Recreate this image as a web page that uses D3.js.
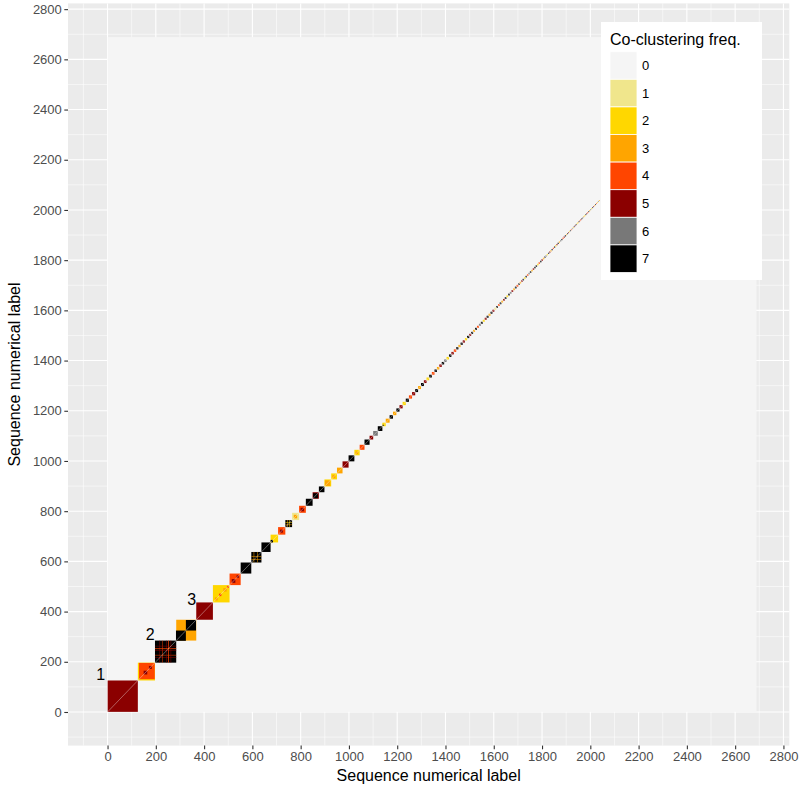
<!DOCTYPE html>
<html>
<head>
<meta charset="utf-8">
<script src="https://cdn.jsdelivr.net/npm/d3@7"></script>
<style>
  body { margin: 0; background: #ffffff; }
  svg { display: block; font-family: "Liberation Sans", Arial, sans-serif; }
</style>
</head>
<body>
<svg id="chart"></svg>
<script>
let width = 800
let height = 791

// number of sequences in the matrix
let nSeq = 2688

// co-clustering frequency levels and their fills
let freqLevels = [0, 1, 2, 3, 4, 5, 6, 7]
let freqColors = ['#F5F5F5', '#F0E68C', '#FFD700', '#FFA500', '#FF4500', '#8B0000', '#787878', '#000000']

// clusters along the diagonal, in order: size (sequences) and frequency
let clusterSize = [
    125, 71, 88, 83, 69, 69, 46, 44, 42, 38, 31, 30, 28, 29, 28, 28, 26, 23, 28, 24,
    23, 25, 24, 22, 20, 21, 15, 19, 19, 14, 16,
    14, 14, 13, 13, 13, 13, 13, 13, 12, 12,
    12, 11, 11, 11, 11, 10, 10, 10, 10, 10, 10, 10, 10, 10, 9, 9, 9, 9, 9, 9,
    8, 8, 8, 8, 8, 8, 8, 8, 8, 8, 8, 8, 8, 8, 7, 7, 7, 7, 7, 7, 7, 7, 7, 7, 7, 7, 7,
    6, 6, 6, 6, 6, 6, 6, 6, 6, 6, 6, 6, 6, 6, 6, 6, 6, 6, 5, 5, 5, 5, 5, 5, 5, 5, 5, 5, 5, 5, 5, 5, 5, 5, 5, 5,
    4, 4, 4, 4, 4, 4, 4, 4, 4, 4, 4, 4, 4, 4, 4, 4, 4, 4, 4, 4, 4, 4, 4, 4, 4, 4, 4, 4, 4, 4, 4, 4, 4, 4, 4
]
let clusterFreq = [
    5, 2, 7, 3, 5, 2, 4, 7, 7, 7, 2, 4, 7, 1, 4, 7, 5, 7, 2, 2,
    3, 5, 7, 2, 4, 7, 5, 6, 7, 2, 3,
    7, 3, 7, 5, 2, 7, 4, 5, 7, 3,
    7, 5, 2, 7, 4, 7, 3, 5, 7, 6, 2, 7, 5, 4, 7, 3, 7, 5, 2, 7,
    5, 7, 3, 7, 4, 6, 7, 2, 5, 7, 3, 7, 5, 1, 7, 4, 7, 3, 5, 7, 2, 7, 6, 5, 3, 7, 4,
    7, 3, 5, 7, 2, 7, 4, 6, 7, 3, 5, 7, 7, 2, 4, 7, 5, 3, 7, 6, 2, 7, 5, 3, 7, 4, 7, 2, 5, 7, 3, 6, 7, 4, 5, 7,
    3, 7, 5, 2, 7, 4, 6, 3, 7, 5, 7, 2, 3, 7, 4, 5, 7, 6, 3, 2, 7, 5, 4, 7, 3, 6, 2, 7, 5, 3, 7, 4, 2, 6, 3
]

// tighter sub-groups inside a cluster: first sequence, size, frequency
let subStart = [131, 150, 172, 284, 325, 445, 462, 480, 495, 515, 535, 676, 715, 772, 800, 852, 901, 932, 1028, 1140]
let subSize  = [65, 15, 12, 41, 42, 12, 10, 14, 8, 15, 10, 10, 12, 14, 14, 20, 22, 12, 10, 5]
let subFreq  = [4, 5, 5, 7, 7, 3, 4, 3, 4, 5, 5, 7, 5, 3, 5, 7, 3, 3, 3, 7]

// loosely attached members (row + column inside their cluster)
let looseStart = [216, 226, 244, 251, 262, 606, 620, 745, 754]
let looseSize  = [2, 2, 2, 3, 2, 2, 2, 2, 2]
let looseFreq  = [5, 4, 5, 4, 5, 3, 3, 3, 2]

// numbered cluster labels
let labelText = ['1', '2', '3']
let labelX = [-28, 177, 349]
let labelY = [150, 309, 448]

let xTicks = [0, 200, 400, 600, 800, 1000, 1200, 1400, 1600, 1800, 2000, 2200, 2400, 2600, 2800]
let xMinor = [-100, 100, 300, 500, 700, 900, 1100, 1300, 1500, 1700, 1900, 2100, 2300, 2500, 2700]
let yTicks = [0, 200, 400, 600, 800, 1000, 1200, 1400, 1600, 1800, 2000, 2200, 2400, 2600, 2800]
let yMinor = [-100, 100, 300, 500, 700, 900, 1100, 1300, 1500, 1700, 1900, 2100, 2300, 2500, 2700]

let panel = { left: 68, right: 789.3, top: 3.4, bottom: 745.6 }

let svg = d3.select('#chart').attr('width', width).attr('height', height)

let expand = (lo, hi) => {
    let pad = (hi - lo) * 0.05
    return [lo - pad, hi + pad]
}

let xScale = d3.scaleLinear()
    .domain(expand(d3.min(labelX), nSeq + 0.5))
    .range([panel.left, panel.right])
let yScale = d3.scaleLinear()
    .domain(expand(0.5, nSeq + 0.5))
    .range([panel.bottom, panel.top])
let color = d3.scaleOrdinal().domain(freqLevels).range(freqColors)

let ends = d3.cumsum(clusterSize)
let clusters = clusterSize.map((s, i) => ({ start: ends[i] - s + 1, size: s, freq: clusterFreq[i] }))

// panel background and grid
svg.append('rect')
    .attr('x', panel.left).attr('y', panel.top)
    .attr('width', panel.right - panel.left).attr('height', panel.bottom - panel.top)
    .attr('fill', '#EBEBEB')

let grid = svg.append('g')
grid.selectAll('line.xminor').data(xMinor).enter().append('line')
    .attr('x1', d => xScale(d)).attr('x2', d => xScale(d))
    .attr('y1', panel.top).attr('y2', panel.bottom)
    .attr('stroke', '#fff').attr('stroke-width', 0.55)
grid.selectAll('line.yminor').data(yMinor).enter().append('line')
    .attr('y1', d => yScale(d)).attr('y2', d => yScale(d))
    .attr('x1', panel.left).attr('x2', panel.right)
    .attr('stroke', '#fff').attr('stroke-width', 0.55)
grid.selectAll('line.xmajor').data(xTicks).enter().append('line')
    .attr('x1', d => xScale(d)).attr('x2', d => xScale(d))
    .attr('y1', panel.top).attr('y2', panel.bottom)
    .attr('stroke', '#fff').attr('stroke-width', 1.1)
grid.selectAll('line.ymajor').data(yTicks).enter().append('line')
    .attr('y1', d => yScale(d)).attr('y2', d => yScale(d))
    .attr('x1', panel.left).attr('x2', panel.right)
    .attr('stroke', '#fff').attr('stroke-width', 1.1)

// tile helper: square block from sequence a to b (inclusive) on both axes
let tile = (g, a0, a1, b0, b1, f) => {
    g.append('rect')
        .attr('x', xScale(a0 - 0.5))
        .attr('y', yScale(b1 + 0.5))
        .attr('width', xScale(a1 + 0.5) - xScale(a0 - 0.5))
        .attr('height', yScale(b0 - 0.5) - yScale(b1 + 0.5))
        .attr('fill', color(f))
}

let heat = svg.append('g')
// frequency 0 everywhere else
tile(heat, 1, nSeq, 1, nSeq, 0)

clusters.forEach(c => tile(heat, c.start, c.start + c.size - 1, c.start, c.start + c.size - 1, c.freq))

subStart.forEach((s, i) => tile(heat, s, s + subSize[i] - 1, s, s + subSize[i] - 1, subFreq[i]))

looseStart.forEach((s, i) => {
    let c = clusters.find(c => s >= c.start && s < c.start + c.size)
    let e = s + looseSize[i] - 1
    let cEnd = c.start + c.size - 1
    tile(heat, s, e, c.start, cEnd, looseFreq[i])
    tile(heat, c.start, cEnd, s, e, looseFreq[i])
})

// self pairs along the diagonal
heat.selectAll('line.diag').data(clusters).enter().append('line')
    .attr('x1', d => xScale(d.start - 0.5)).attr('y1', d => yScale(d.start - 0.5))
    .attr('x2', d => xScale(d.start + d.size - 0.5)).attr('y2', d => yScale(d.start + d.size - 0.5))
    .attr('stroke', '#F5F5F5').attr('stroke-width', 0.7).attr('stroke-opacity', 0.55)

// cluster labels
svg.selectAll('text.lab').data(labelText).enter().append('text')
    .attr('x', (d, i) => xScale(labelX[i]))
    .attr('y', (d, i) => yScale(labelY[i]))
    .attr('dy', '0.35em')
    .attr('text-anchor', 'middle')
    .style('font-size', '16px')
    .attr('fill', '#000')
    .text(d => d)

// axes
let xAxis = d3.axisBottom(xScale).tickValues(xTicks).tickSize(3.7).tickPadding(2.5).tickFormat(d3.format('d'))
let yAxis = d3.axisLeft(yScale).tickValues(yTicks).tickSize(3.7).tickPadding(2.5).tickFormat(d3.format('d'))

let gx = svg.append('g').attr('transform', 'translate(0,' + panel.bottom + ')').call(xAxis)
let gy = svg.append('g').attr('transform', 'translate(' + panel.left + ',0)').call(yAxis)
;[gx, gy].forEach(g => {
    g.select('.domain').remove()
    g.selectAll('.tick line').attr('stroke', '#333333').attr('stroke-width', 1.1)
    g.selectAll('.tick text').attr('fill', '#4D4D4D').style('font-size', '13px')
        .style('font-family', '"Liberation Sans", Arial, sans-serif')
})

svg.append('text')
    .attr('x', (panel.left + panel.right) / 2)
    .attr('y', 781)
    .attr('text-anchor', 'middle')
    .style('font-size', '16px')
    .text('Sequence numerical label')

svg.append('text')
    .attr('transform', 'translate(20,' + ((panel.top + panel.bottom) / 2) + ') rotate(-90)')
    .attr('text-anchor', 'middle')
    .style('font-size', '16px')
    .text('Sequence numerical label')

// legend
let legend = svg.append('g')
legend.append('rect')
    .attr('x', 601).attr('y', 22).attr('width', 161).attr('height', 258)
    .attr('fill', '#ffffff')
legend.append('text')
    .attr('x', 610).attr('y', 45)
    .style('font-size', '16px')
    .text('Co-clustering freq.')
let keyH = 27.6
legend.selectAll('rect.key').data(freqLevels).enter().append('rect')
    .attr('x', 610)
    .attr('y', (d, i) => 51.7 + i * keyH)
    .attr('width', 27)
    .attr('height', keyH)
    .attr('fill', d => color(d))
    .attr('stroke', '#ffffff')
    .attr('stroke-width', 0.8)
legend.selectAll('text.key').data(freqLevels).enter().append('text')
    .attr('x', 642)
    .attr('y', (d, i) => 51.7 + (i + 0.5) * keyH)
    .attr('dy', '0.35em')
    .style('font-size', '13px')
    .text(d => d)
</script>
</body>
</html>
